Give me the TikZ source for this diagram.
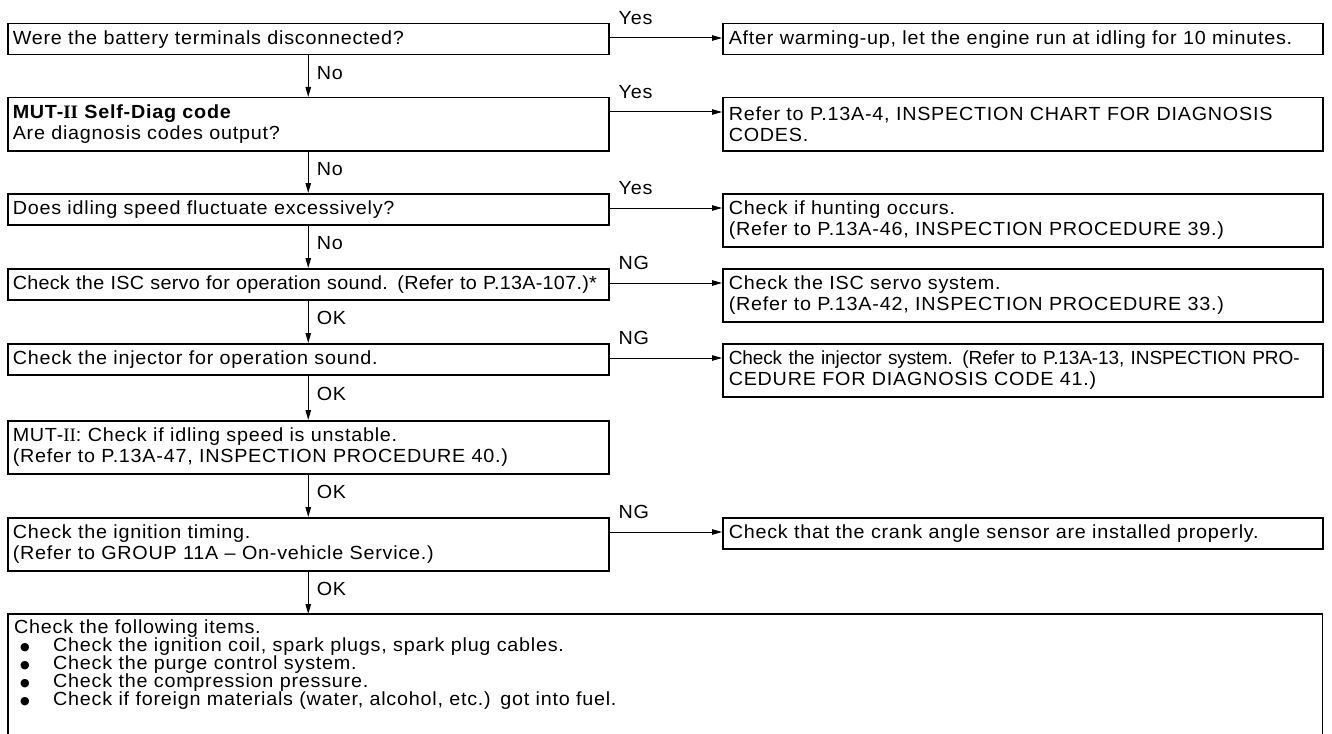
\documentclass[tikz,border=0pt]{standalone}
\usepackage{fontspec}
\setmainfont{Liberation Sans}[FakeStretch=1.04,LetterSpace=4,WordSpace=1.15]
\newfontfamily\romnum{Liberation Serif}
\newfontfamily\symface{DejaVu Sans}
\newfontfamily\tightface{Liberation Sans}[FakeStretch=1.04,LetterSpace=1.5,WordSpace=1.0]
\newfontfamily\squeezeface{Liberation Sans}[LetterSpace=-0.5,WordSpace=0.8]
\usetikzlibrary{arrows.meta}

\begin{document}
\begin{tikzpicture}[x=1pt, y=-1pt,
  font={\fontsize{19}{18}\selectfont\lineskiplimit=-20pt\relax}]

\definecolor{chartink}{HTML}{000000}

\tikzset{
  boxline/.style={draw=chartink, line width=1.5pt},
  leftbox/.style={boxline, anchor=north west, text width=591pt,
    inner xsep=5pt, inner ysep=0pt, align=left},
  rightbox/.style={leftbox, text width=588pt, inner xsep=6pt},
  onerow/.style={minimum height=31pt},
  tworow/.style={minimum height=53pt,
    font={\fontsize{19}{21}\selectfont\lineskiplimit=-20pt\relax}},
  trunk/.style={draw=chartink, line width=1pt,
    -{Triangle[length=10pt,width=5.5pt]}},
  branchlab/.style={anchor=west, inner sep=0pt},
  steplab/.style={anchor=west, inner sep=0pt, xshift=8pt}
}

\useasboundingbox (0,0) rectangle (1332,733);

% Main column: the checks in the order they are made.
\node[leftbox,onerow] (q1) at (7,23) {Were the battery terminals disconnected?};
\node[leftbox,tworow] (q2) at (7,97)
  {\textbf{MUT-{\romnum II} Self-Diag code}\\Are diagnosis codes output?};
\node[leftbox,onerow] (q3) at (7,193) {Does idling speed fluctuate excessively?};
\node[leftbox,onerow] (q4) at (7,268)
  {\makebox[586pt][s]{\tightface Check the ISC servo for operation sound. (Refer to P.13A-107.)*}};
\node[leftbox,onerow] (q5) at (7,343) {Check the injector for operation sound.};
\node[leftbox,tworow] (q6) at (7,420)
  {MUT-{\romnum II}: Check if idling speed is unstable.\\(Refer to P.13A-47, INSPECTION PROCEDURE 40.)};
\node[leftbox,tworow] (q7) at (7,517)
  {Check the ignition timing.\\(Refer to GROUP 11A -- On-vehicle Service.)};

% Last step: the frame runs on below the page, so it has no bottom edge.
\newcommand{\chkbullet}{\makebox[39pt][l]{\hspace*{6pt}\raisebox{1pt}{\symface\fontsize{11}{18}\selectfont ●}}}
\node[anchor=north west, text width=1302pt, inner xsep=6pt, inner ysep=6pt,
  align=left] (q8) at (8,614)
  {Check the following items.\\
   \chkbullet Check the ignition coil, spark plugs, spark plug cables.\\
   \chkbullet Check the purge control system.\\
   \chkbullet Check the compression pressure.\\
   \chkbullet Check if foreign materials (water, alcohol, etc.) got into fuel.};
\draw[boxline] ([yshift=-40pt]q8.south west) |- (q8.north east)
  -- ([yshift=-40pt]q8.south east);

% Side column: where a check sends you instead.
\node[rightbox,onerow] (a1) at (722,23)
  {\mbox{After warming-up, let the engine run at idling for 10 minutes.}};
\node[rightbox,tworow] (a2) at (722,97)
  {\makebox[588pt][s]{Refer to P.13A-4, INSPECTION CHART FOR DIAGNOSIS}\\CODES.};
\node[rightbox,tworow] (a3) at (722,193)
  {Check if hunting occurs.\\(Refer to P.13A-46, INSPECTION PROCEDURE 39.)};
\node[rightbox,tworow] (a4) at (722,268)
  {Check the ISC servo system.\\(Refer to P.13A-42, INSPECTION PROCEDURE 33.)};
\node[rightbox,tworow] (a5) at (722,343)
  {\makebox[588pt][s]{\squeezeface Check the injector system. (Refer to P.13A-13, INSPECTION PRO-}\\CEDURE FOR DIAGNOSIS CODE 41.)};
\node[rightbox,onerow] (a7) at (722,517)
  {Check that the crank angle sensor are installed properly.};

% Down the main column.
\foreach \from/\to/\lab in {q1/q2/No, q2/q3/No, q3/q4/No, q4/q5/OK,
  q5/q6/OK, q6/q7/OK, q7/q8/OK}
  \draw[trunk] (\from.south) -- node[steplab, pos=0.42] (st-\from) {\lab}
    (\from.south |- \to.north);

% Across to the side column.
\foreach \from/\to/\lab in {q1/a1/Yes, q2/a2/Yes, q3/a3/Yes, q4/a4/NG,
  q5/a5/NG, q7/a7/NG}{%
  \draw[trunk] ([yshift=-15pt]\from.north east)
    -- ([yshift=-15pt]\to.north west);
  \node[branchlab] (br-\from) at ([xshift=9pt,yshift=5pt]\from.north east)
    {\lab};
}

\end{tikzpicture}
\end{document}
